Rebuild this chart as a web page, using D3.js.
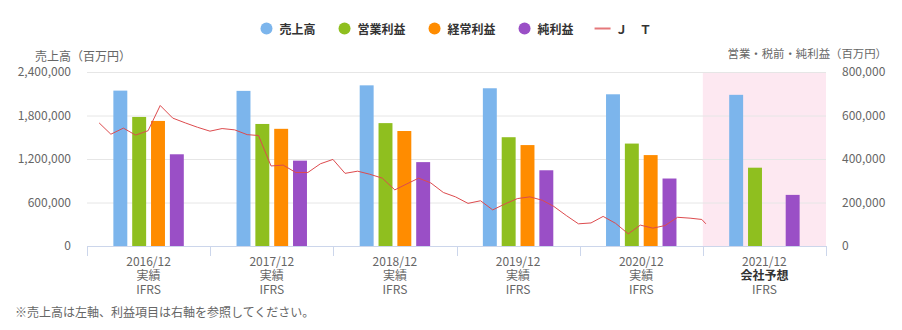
<!DOCTYPE html>
<html>
<head>
<meta charset="utf-8">
<script src="https://cdn.jsdelivr.net/npm/d3@7"></script>
<style>
  body { margin: 0; background: #fff; }
  text { font-family: "Noto Sans CJK JP", "Noto Sans", sans-serif; }
</style>
</head>
<body>
<svg id="chart" width="902" height="330"></svg>
<script>
// ---- data -------------------------------------------------------------
const periods = ["2016/12", "2017/12", "2018/12", "2019/12", "2020/12", "2021/12"];
const periodKinds = ["実績", "実績", "実績", "実績", "実績", "会社予想"];
const standards = ["IFRS", "IFRS", "IFRS", "IFRS", "IFRS", "IFRS"];
const forecastPeriod = "2021/12";

const seriesNames = ["売上高", "営業利益", "経常利益", "純利益"];
const seriesColors = ["#7cb5ec", "#8fbf1f", "#ff8c00", "#9a4fc6"];

// 百万円
const sales           = [2143288, 2139653, 2215962, 2175626, 2092561, 2085000];
const operatingProfit = [593329, 561101, 564984, 500152, 470934, 360000];
const ordinaryProfit  = [574990, 538756, 528700, 464000, 418000, null];
const netProfit       = [421695, 392409, 385677, 348190, 310253, 235000];

const leftTicks  = [0, 600000, 1200000, 1800000, 2400000];
const rightTicks = [0, 200000, 400000, 600000, 800000];

// JT share price (円), month-end closes
const priceName = "Ｊ　Ｔ";
const priceColor = "#dd4b4e";
const priceDates = [
  "2016-01-31","2016-02-29","2016-03-31","2016-04-30","2016-05-31","2016-06-30",
  "2016-07-31","2016-08-31","2016-09-30","2016-10-31","2016-11-30","2016-12-31",
  "2017-01-31","2017-02-28","2017-03-31","2017-04-30","2017-05-31","2017-06-30",
  "2017-07-31","2017-08-31","2017-09-30","2017-10-31","2017-11-30","2017-12-31",
  "2018-01-31","2018-02-28","2018-03-31","2018-04-30","2018-05-31","2018-06-30",
  "2018-07-31","2018-08-31","2018-09-30","2018-10-31","2018-11-30","2018-12-31",
  "2019-01-31","2019-02-28","2019-03-31","2019-04-30","2019-05-31","2019-06-30",
  "2019-07-31","2019-08-31","2019-09-30","2019-10-31","2019-11-30","2019-12-31",
  "2020-01-31","2020-02-29","2020-03-10"
];
const priceValues = [
  4430, 4170, 4310, 4150, 4250, 4830, 4540, 4430, 4330, 4240, 4300, 4270,
  4160, 4140, 3440, 3460, 3290, 3290, 3490, 3590, 3270, 3320, 3250, 3160,
  2890, 3020, 3160, 3050, 2830, 2730, 2580, 2640, 2430, 2570, 2690, 2730,
  2650, 2510, 2300, 2110, 2130, 2280, 2120, 1880, 2080, 2010, 2070, 2260,
  2240, 2210, 2110
];
const priceAxisDomain = [1600, 5600];

// ---- layout -----------------------------------------------------------
const svg = d3.select("#chart");
const plot = { left: 87, right: 826, top: 72, bottom: 246 };

const x = d3.scaleBand().domain(periods).range([plot.left, plot.right]).padding(0);
const xSeries = d3.scaleBand().domain(seriesNames)
  .range([0, x.bandwidth()]).paddingInner(0.26).paddingOuter(1.4);
const yLeft = d3.scaleLinear().domain([0, 2400000]).range([plot.bottom, plot.top]);
const yRight = d3.scaleLinear().domain([0, 800000]).range([plot.bottom, plot.top]);
const yPrice = d3.scaleLinear().domain(priceAxisDomain).range([plot.bottom, plot.top]);
const parseDate = d3.timeParse("%Y-%m-%d");
const xTime = d3.scaleTime()
  .domain([new Date(2016, 0, 1), new Date(2021, 0, 1)])
  .range([plot.left, plot.right]);

// forecast period background
svg.append("rect")
  .attr("x", x(forecastPeriod)).attr("y", plot.top)
  .attr("width", x.bandwidth()).attr("height", plot.bottom - plot.top)
  .attr("fill", "#fde8f1");

// left axis + grid
const gLeft = svg.append("g").attr("transform", `translate(${plot.left},0)`)
  .call(d3.axisLeft(yLeft).tickValues(leftTicks).tickFormat(d3.format(","))
    .tickSize(-(plot.right - plot.left)).tickPadding(16));
gLeft.select(".domain").remove();
gLeft.selectAll(".tick line").attr("stroke", "#e6e6e6");
gLeft.selectAll(".tick text").attr("fill", "#666").style("font-size", "12px");

// right axis labels
const gRight = svg.append("g").attr("transform", `translate(${plot.right},0)`)
  .call(d3.axisRight(yRight).tickValues(rightTicks).tickFormat(d3.format(","))
    .tickSize(0).tickPadding(16));
gRight.select(".domain").remove();
gRight.selectAll(".tick text").attr("fill", "#666").style("font-size", "12px");

// axis titles
svg.append("text").attr("x", 35).attr("y", 55).attr("dominant-baseline", "central")
  .attr("fill", "#666").style("font-size", "12px").text("売上高（百万円）");
svg.append("text").attr("x", 887).attr("y", 53).attr("dominant-baseline", "central")
  .attr("text-anchor", "end")
  .attr("fill", "#666").style("font-size", "11.4px").text("営業・税前・純利益（百万円）");

// x axis line, boundary ticks and labels
svg.append("line")
  .attr("x1", plot.left).attr("x2", plot.right)
  .attr("y1", plot.bottom + 0.5).attr("y2", plot.bottom + 0.5)
  .attr("stroke", "#ccd6eb");
const boundaries = periods.map(p => x(p)).concat([plot.right]);
svg.append("g").selectAll("line").data(boundaries).join("line")
  .attr("x1", d => Math.round(d) + 0.5).attr("x2", d => Math.round(d) + 0.5)
  .attr("y1", plot.bottom).attr("y2", plot.bottom + 10)
  .attr("stroke", "#ccd6eb");

// three-line category labels: period / kind / accounting standard
const xLabels = svg.append("g").selectAll("text").data(periods).join("text")
  .attr("text-anchor", "middle").attr("fill", "#666").style("font-size", "12px");
xLabels.append("tspan")
  .attr("x", d => x(d) + x.bandwidth() / 2).attr("y", 266)
  .text(d => d);
xLabels.append("tspan")
  .attr("x", d => x(d) + x.bandwidth() / 2).attr("y", 280)
  .attr("fill", (d, i) => periodKinds[i] === "会社予想" ? "#333" : "#666")
  .style("font-weight", (d, i) => periodKinds[i] === "会社予想" ? "bold" : "normal")
  .text((d, i) => periodKinds[i]);
xLabels.append("tspan")
  .attr("x", d => x(d) + x.bandwidth() / 2).attr("y", 294)
  .text((d, i) => standards[i]);

// bars
const seriesValues = [sales, operatingProfit, ordinaryProfit, netProfit];
const barData = [];
periods.forEach((p, i) => {
  seriesNames.forEach((s, j) => {
    const v = seriesValues[j][i];
    if (v == null) return;
    const scale = j === 0 ? yLeft : yRight;
    barData.push({ p, s, v, scale, color: seriesColors[j] });
  });
});
svg.append("g").selectAll("rect").data(barData).join("rect")
  .attr("x", d => x(d.p) + xSeries(d.s))
  .attr("width", xSeries.bandwidth())
  .attr("y", d => d.scale(d.v))
  .attr("height", d => plot.bottom - d.scale(d.v))
  .attr("fill", d => d.color);

// share price line
const pricePoints = priceDates.map((d, i) => ({ date: parseDate(d), value: priceValues[i] }));
svg.append("path").datum(pricePoints)
  .attr("fill", "none").attr("stroke", priceColor).attr("stroke-width", 1)
  .attr("d", d3.line().x(d => xTime(d.date)).y(d => yPrice(d.value)));

// footnote
svg.append("text").attr("x", 15).attr("y", 311).attr("dominant-baseline", "central")
  .attr("fill", "#666").style("font-size", "12px")
  .text("※売上高は左軸、利益項目は右軸を参照してください。");

// legend
const legendItems = seriesNames.map((n, i) => ({ name: n, color: seriesColors[i], type: "dot" }))
  .concat([{ name: priceName, color: priceColor, type: "line" }]);
const legend = svg.append("g").attr("transform", "translate(266.5,0)");
let cx = 0;
legendItems.forEach((it) => {
  const g = legend.append("g").attr("transform", `translate(${cx},28.5)`);
  if (it.type === "dot") {
    g.append("circle").attr("r", 6).attr("fill", it.color);
  } else {
    g.append("line").attr("x1", -8).attr("x2", 8).attr("stroke", it.color)
      .attr("stroke-width", 2).attr("opacity", 0.75);
  }
  const t = g.append("text").attr("x", 13).attr("dominant-baseline", "central")
    .attr("fill", "#333").style("font-size", "12px").style("font-weight", "bold")
    .text(it.name);
  cx += 13 + t.node().getComputedTextLength() + 29;
});
</script>
</body>
</html>
